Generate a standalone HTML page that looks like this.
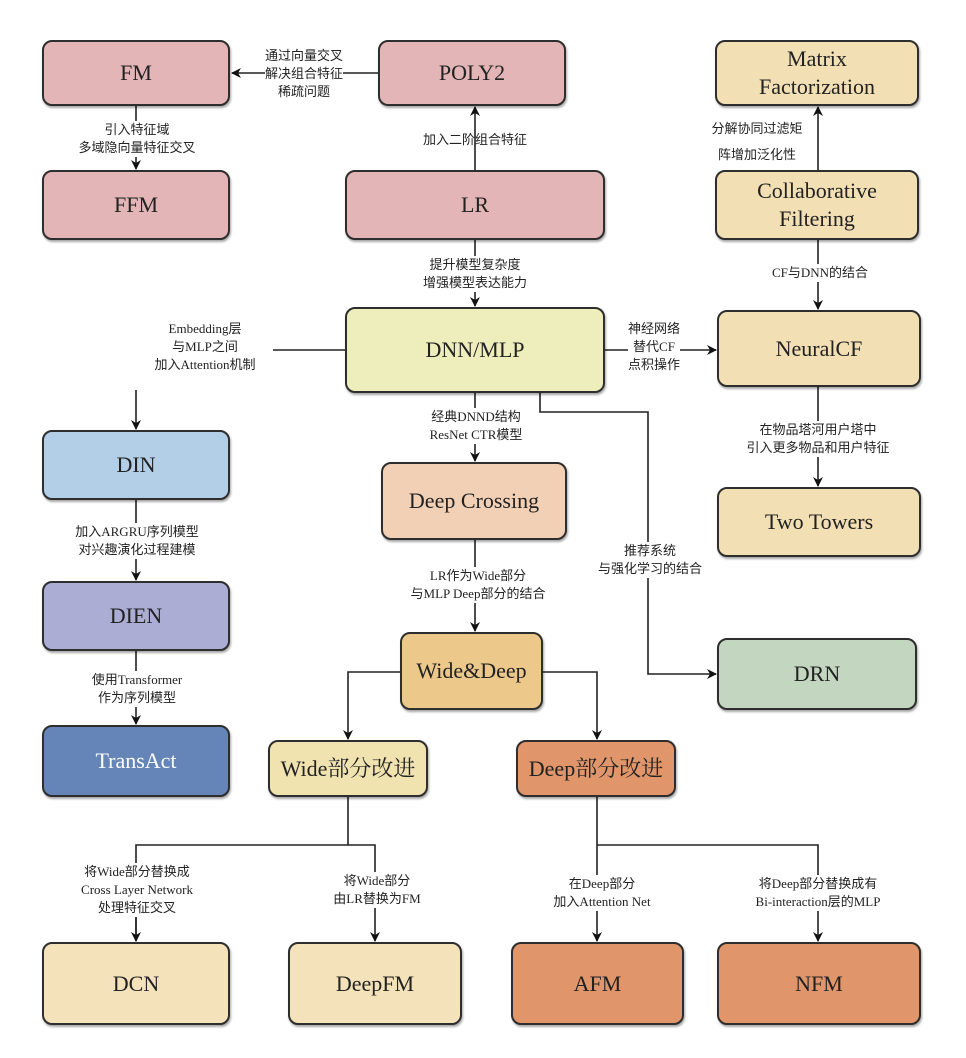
<!DOCTYPE html>
<html><head><meta charset="utf-8"><style>
body{margin:0;background:#fff;width:966px;height:1058px;position:relative;overflow:hidden;font-family:"Liberation Serif","Noto Serif CJK SC",serif;}
.b{position:absolute;box-sizing:border-box;border:2px solid #2e2e2e;border-radius:10px;display:flex;align-items:center;justify-content:center;text-align:center;font-size:22px;color:#222;line-height:28px;box-shadow:1px 2px 2px rgba(0,0,0,.35);}
.l{position:absolute;font-family:"Liberation Serif","Noto Sans CJK SC",sans-serif;font-size:13px;line-height:18px;color:#222;text-align:center;background:#fff;white-space:nowrap;transform:translateX(-50%);}
svg{position:absolute;left:0;top:0;}
</style></head><body>
<svg width="966" height="1058">
<defs><marker id="a" markerWidth="10" markerHeight="10" refX="9" refY="5" orient="auto" markerUnits="userSpaceOnUse"><path d="M0,0 L10,5 L0,10 L3,5 z" fill="#111"/></marker></defs>
<g stroke="#222" stroke-width="1.6" fill="none">
<line x1="378" y1="73" x2="232" y2="73" marker-end="url(#a)"/>
<line x1="136" y1="106" x2="136" y2="169" marker-end="url(#a)"/>
<line x1="475" y1="170" x2="475" y2="107" marker-end="url(#a)"/>
<line x1="818" y1="170" x2="818" y2="107" marker-end="url(#a)"/>
<line x1="475" y1="240" x2="475" y2="306" marker-end="url(#a)"/>
<line x1="818" y1="240" x2="818" y2="309" marker-end="url(#a)"/>
<line x1="605" y1="350" x2="716" y2="350" marker-end="url(#a)"/>
<line x1="273" y1="350" x2="345" y2="350"/>
<line x1="136" y1="390" x2="136" y2="429" marker-end="url(#a)"/>
<line x1="475" y1="393" x2="475" y2="461" marker-end="url(#a)"/>
<polyline points="540,393 540,412 648,412 648,674 716,674" marker-end="url(#a)"/>
<line x1="818" y1="387" x2="818" y2="486" marker-end="url(#a)"/>
<line x1="136" y1="500" x2="136" y2="580" marker-end="url(#a)"/>
<line x1="136" y1="651" x2="136" y2="724" marker-end="url(#a)"/>
<line x1="475" y1="540" x2="475" y2="631" marker-end="url(#a)"/>
<polyline points="400,672 348,672 348,739" marker-end="url(#a)"/>
<polyline points="543,672 597,672 597,739" marker-end="url(#a)"/>
<polyline points="348,797 348,845"/>
<polyline points="136,941 136,845 375,845 375,941" marker-end="url(#a)"/>
<line x1="136" y1="900" x2="136" y2="941" marker-end="url(#a)"/>
<polyline points="597,797 597,941" marker-end="url(#a)"/>
<polyline points="597,845 818,845 818,941" marker-end="url(#a)"/>
</g></svg>
<div class="b" style="left:42px;top:40px;width:188px;height:66px;background:#e3b5b6">FM</div>
<div class="b" style="left:378px;top:40px;width:188px;height:66px;background:#e3b5b6">POLY2</div>
<div class="b" style="left:715px;top:40px;width:204px;height:66px;background:#f2dfb4">Matrix<br>Factorization</div>
<div class="b" style="left:42px;top:170px;width:188px;height:70px;background:#e3b5b6">FFM</div>
<div class="b" style="left:345px;top:170px;width:260px;height:70px;background:#e3b5b6">LR</div>
<div class="b" style="left:715px;top:170px;width:204px;height:70px;background:#f2dfb4">Collaborative<br>Filtering</div>
<div class="b" style="left:345px;top:307px;width:260px;height:86px;background:#eeeebd">DNN/MLP</div>
<div class="b" style="left:717px;top:310px;width:204px;height:77px;background:#f2dfb4">NeuralCF</div>
<div class="b" style="left:42px;top:430px;width:188px;height:70px;background:#b3cfe8">DIN</div>
<div class="b" style="left:381px;top:462px;width:186px;height:78px;background:#f2d0b5">Deep Crossing</div>
<div class="b" style="left:717px;top:487px;width:204px;height:70px;background:#f2dfb4">Two Towers</div>
<div class="b" style="left:42px;top:581px;width:188px;height:70px;background:#abadd4">DIEN</div>
<div class="b" style="left:400px;top:632px;width:143px;height:78px;background:#ecc98a">Wide&amp;Deep</div>
<div class="b" style="left:717px;top:638px;width:200px;height:72px;background:#c2d6c0">DRN</div>
<div class="b" style="left:42px;top:725px;width:188px;height:72px;background:#6585b8;color:#fff">TransAct</div>
<div class="b" style="left:268px;top:740px;width:160px;height:57px;background:#f1e3b0">Wide部分改进</div>
<div class="b" style="left:516px;top:740px;width:160px;height:57px;background:#e0956a">Deep部分改进</div>
<div class="b" style="left:42px;top:942px;width:188px;height:83px;background:#f4e2bb">DCN</div>
<div class="b" style="left:288px;top:942px;width:174px;height:83px;background:#f4e2bb">DeepFM</div>
<div class="b" style="left:511px;top:942px;width:173px;height:83px;background:#e0956a">AFM</div>
<div class="b" style="left:717px;top:942px;width:204px;height:83px;background:#e0956a">NFM</div>

<div class="l" style="left:304px;top:47px">通过向量交叉<br>解决组合特征<br>稀疏问题</div>
<div class="l" style="left:137px;top:121px">引入特征域<br>多域隐向量特征交叉</div>
<div class="l" style="left:475px;top:131px;background:none">加入二阶组合特征</div>
<div class="l" style="left:757px;top:120px">分解协同过滤矩</div>
<div class="l" style="left:757px;top:146px">阵增加泛化性</div>
<div class="l" style="left:475px;top:256px">提升模型复杂度<br>增强模型表达能力</div>
<div class="l" style="left:820px;top:264px">CF与DNN的结合</div>
<div class="l" style="left:205px;top:320px">Embedding层<br>与MLP之间<br>加入Attention机制</div>
<div class="l" style="left:654px;top:320px">神经网络<br>替代CF<br>点积操作</div>
<div class="l" style="left:476px;top:408px">经典DNND结构<br>ResNet CTR模型</div>
<div class="l" style="left:818px;top:421px">在物品塔河用户塔中<br>引入更多物品和用户特征</div>
<div class="l" style="left:137px;top:523px">加入ARGRU序列模型<br>对兴趣演化过程建模</div>
<div class="l" style="left:650px;top:542px">推荐系统<br>与强化学习的结合</div>
<div class="l" style="left:478px;top:567px">LR作为Wide部分<br>与MLP Deep部分的结合</div>
<div class="l" style="left:137px;top:671px">使用Transformer<br>作为序列模型</div>
<div class="l" style="left:137px;top:863px">将Wide部分替换成<br>Cross Layer Network<br>处理特征交叉</div>
<div class="l" style="left:377px;top:872px">将Wide部分<br>由LR替换为FM</div>
<div class="l" style="left:602px;top:875px">在Deep部分<br>加入Attention Net</div>
<div class="l" style="left:818px;top:875px">将Deep部分替换成有<br>Bi-interaction层的MLP</div>
</body></html>
